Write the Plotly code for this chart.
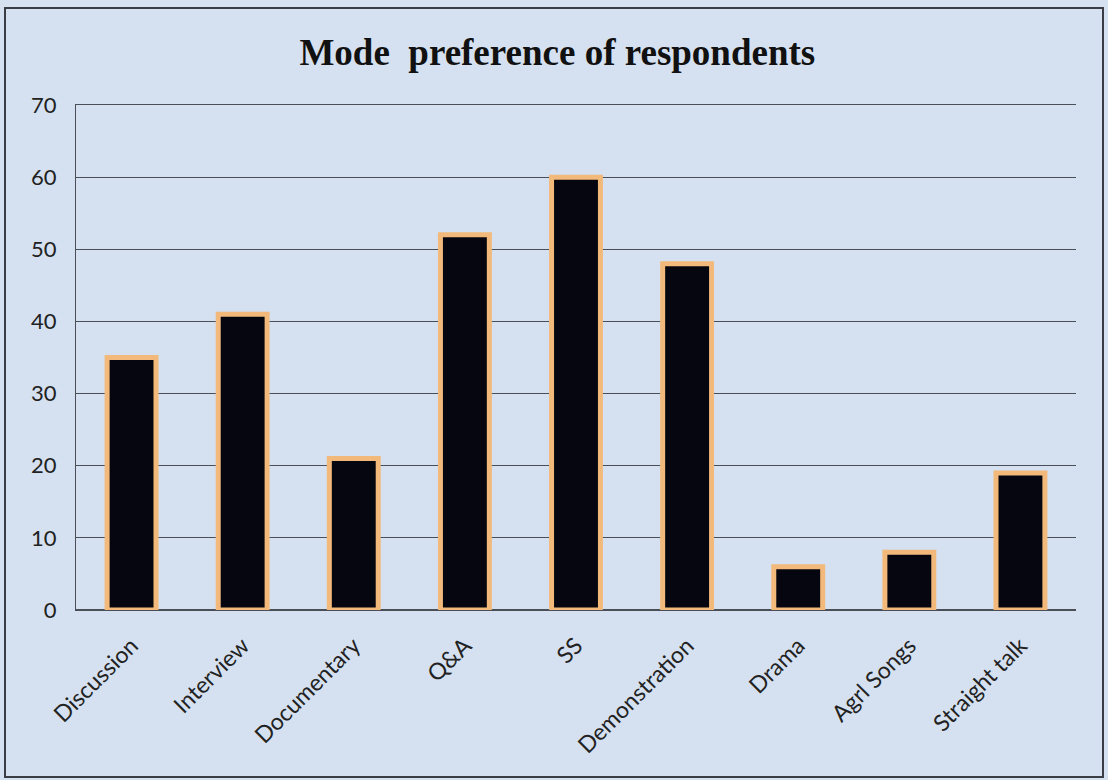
import plotly.graph_objects as go

categories = ["Discussion", "Interview", "Documentary", "Q&A", "SS",
              "Demonstration", "Drama", "Agrl Songs", "Straight talk"]
respondents = [35, 41, 21, 52, 60, 48, 6, 8, 19]
y_ticks = [0, 10, 20, 30, 40, 50, 60, 70]

bg = "#d5e1f0"
grid = "#4a4e57"

fig = go.Figure(
    go.Bar(
        x=categories,
        y=respondents,
        marker=dict(color="#05060f", line=dict(color="#f2b97a", width=5)),
        width=0.44,
        hoverinfo="x+y",
    )
)

fig.update_layout(
    width=1108,
    height=780,
    margin=dict(l=76, r=32, t=105, b=170),
    paper_bgcolor=bg,
    plot_bgcolor=bg,
    showlegend=False,
    title=dict(
        text="<b>Mode  preference of respondents</b>",
        x=0.503, xref="container", xanchor="center",
        y=1 - 52 / 780, yref="container", yanchor="middle",
        font=dict(family="Liberation Serif", size=37, color="#111111"),
    ),
    font=dict(family="Lato", color="#222222"),
    xaxis=dict(
        tickangle=-45,
        tickfont=dict(family="Lato", size=23, color="#222222"),
        showgrid=False,
        showline=True,
        mirror=True,
        linecolor=grid,
        linewidth=1.3,
        ticks="outside",
        ticklen=12,
        tickcolor="rgba(0,0,0,0)",
    ),
    yaxis=dict(
        range=[0, 70],
        tickvals=y_ticks,
        tickfont=dict(family="Lato", size=22, color="#222222"),
        showgrid=True,
        gridcolor=grid,
        gridwidth=1.3,
        zeroline=True,
        zerolinecolor=grid,
        zerolinewidth=1.5,
        showline=True,
        linecolor=grid,
        linewidth=1.3,
        ticks="outside",
        ticklen=14,
        tickcolor="rgba(0,0,0,0)",
    ),
    shapes=[
        dict(
            type="rect", xref="paper", yref="paper",
            x0=(5 - 76) / 1000, x1=(1103 - 76) / 1000,
            y0=(610 - 777) / 505, y1=(610 - 8) / 505,
            line=dict(color="#3a3d44", width=2),
            fillcolor="rgba(0,0,0,0)",
            layer="below",
        )
    ],
)

fig.write_html("out.html")
